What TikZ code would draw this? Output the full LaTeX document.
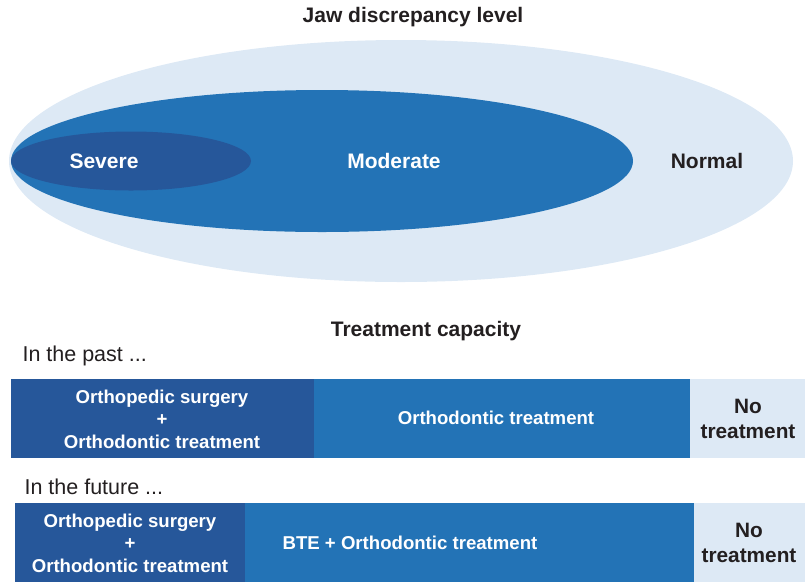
\documentclass[tikz,border=0pt]{standalone}
\usepackage{fontspec}
\setmainfont{Liberation Sans}
\usetikzlibrary{shapes.geometric}
\definecolor{darkblue}{HTML}{26579A}
\definecolor{midblue}{HTML}{2373B6}
\definecolor{paleblue}{HTML}{DDE9F5}
\definecolor{ink}{HTML}{231F20}
\tikzset{
  px/.style={x=1pt,y=-1pt},
  heading/.style={font=\fontsize{21}{25}\selectfont\bfseries, text=ink},
  caption/.style={font=\fontsize{21.5}{25}\selectfont, text=ink, anchor=west},
  level/.style={font=\fontsize{21}{25}\selectfont\bfseries},
  boxtext/.style={font=\fontsize{18.6}{22.5}\selectfont\bfseries, align=center, text=white},
  notext/.style={font=\fontsize{20.8}{25.5}\selectfont\bfseries, align=center, text=ink}
}
\begin{document}
\begin{tikzpicture}[px]
\useasboundingbox (0,0) rectangle (805,582);

% jaw discrepancy levels as nested ellipses
\node (title) [heading] at (413,17) {Jaw discrepancy level};
\fill[paleblue] (401,161) ellipse [x radius=392, y radius=121];
\fill[midblue]  (322,161) ellipse [x radius=311, y radius=71];
\fill[darkblue] (131,161) ellipse [x radius=120, y radius=29.5];
\node (severe)   [level, text=white] at (104,161) {Severe};
\node (moderate) [level, text=white] at (394,161) {Moderate};
\node (normal)   [level, text=ink]   at (707,161) {Normal};

% treatment capacity bands
\node (capacity) [heading] at (426,331) {Treatment capacity};

\node (pastlbl) [caption] at (19,356) {In the past ...};
\fill[darkblue] (11,379) rectangle (314,458);
\fill[midblue]  (314,379) rectangle (690,458);
\fill[paleblue] (690,379) rectangle (805,458);
\node (pastA) [boxtext] at (162,419) {Orthopedic surgery\\+\\Orthodontic treatment};
\node (pastB) [boxtext] at (496,418) {Orthodontic treatment};
\node (pastC) [notext]  at (748,419) {No\\treatment};

\node (futlbl) [caption] at (21,487) {In the future ...};
\fill[darkblue] (15,503) rectangle (245,582);
\fill[midblue]  (245,503) rectangle (694,582);
\fill[paleblue] (694,503) rectangle (805,582);
\node (futA) [boxtext] at (130,543) {Orthopedic surgery\\+\\Orthodontic treatment};
\node (futB) [boxtext] at (410,543) {BTE + Orthodontic treatment};
\node (futC) [notext]  at (749,543) {No\\treatment};
\end{tikzpicture}
\end{document}
